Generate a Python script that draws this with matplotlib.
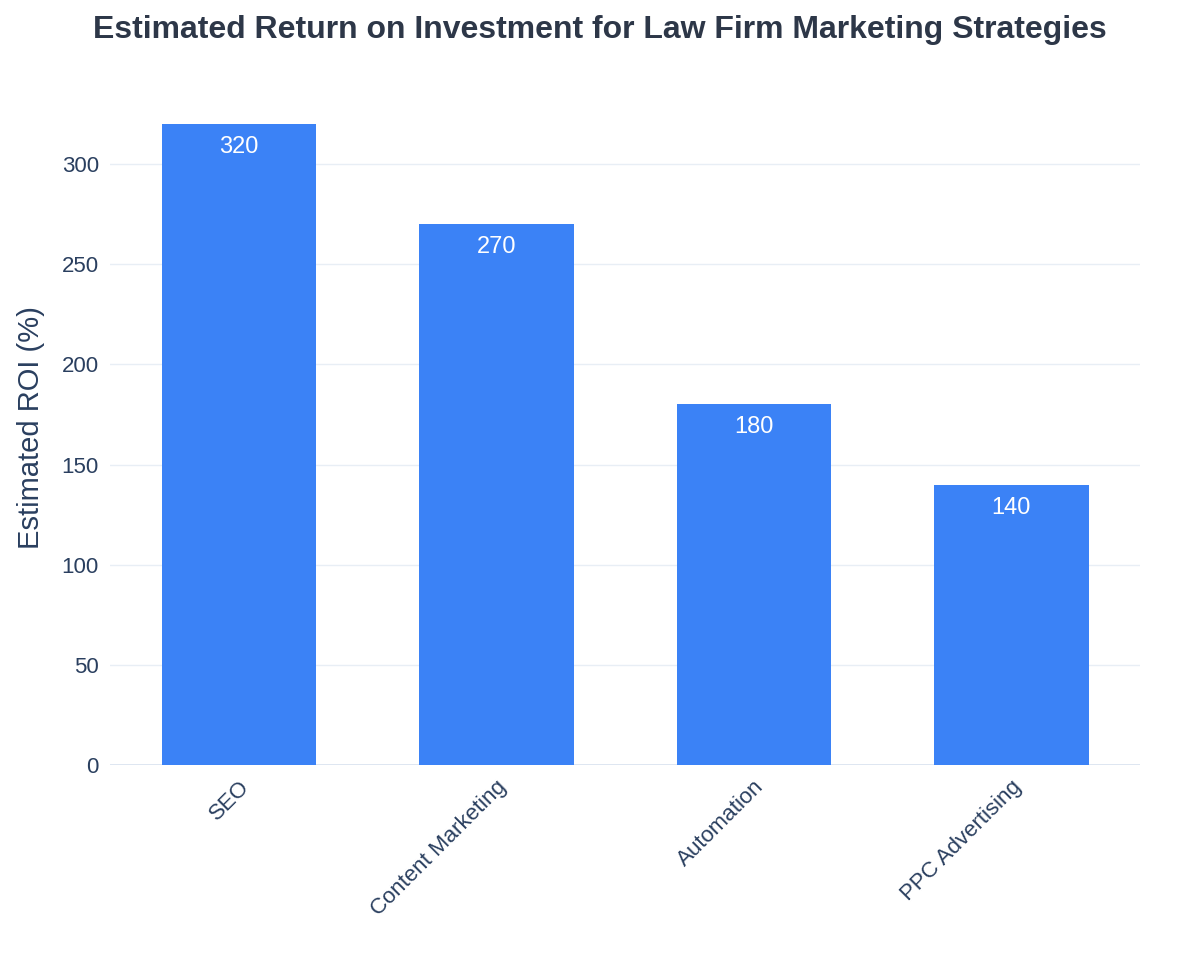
import matplotlib
matplotlib.use("Agg")
import matplotlib.pyplot as plt

strategies = ["SEO", "Content Marketing", "Automation", "PPC Advertising"]
roi = [320, 270, 180, 140]
yticks = [0, 50, 100, 150, 200, 250, 300]

plt.rcParams["font.family"] = "Liberation Sans"
text_color = "#2a3f5f"

fig = plt.figure(figsize=(12, 9.75), dpi=100)
ax = fig.add_axes([0.0917, 0.2154, 0.8583, 0.6923])

x = list(range(len(strategies)))
bars = ax.bar(x, roi, width=0.6, color="#3b82f6", zorder=3)
for xi, v in zip(x, roi):
    ax.text(xi, v - 6, str(v), ha="center", va="top", color="white", fontsize=17, zorder=4)

ax.set_xlim(-0.5, 3.5)
ax.set_ylim(0, 337)
ax.set_yticks(yticks)
ax.set_yticklabels([str(t) for t in yticks], fontsize=16, color=text_color)
ax.set_xticks(x)
ax.set_xticklabels(strategies, rotation=45, ha="right", rotation_mode="anchor",
                   fontsize=16, color=text_color)
ax.tick_params(length=0, pad=8)
ax.grid(axis="y", color="#e8eef5", linewidth=1, zorder=0)
ax.axhline(0, color="#dbe4f0", linewidth=2, zorder=2)
for s in ax.spines.values():
    s.set_visible(False)

ax.set_ylabel("Estimated ROI (%)", fontsize=21, color=text_color, labelpad=12)
fig.suptitle("Estimated Return on Investment for Law Firm Marketing Strategies",
             x=0.5, y=0.985, fontsize=23, fontweight="bold", color="#2d3748")

fig.savefig("out.png", dpi=100, facecolor="white")
